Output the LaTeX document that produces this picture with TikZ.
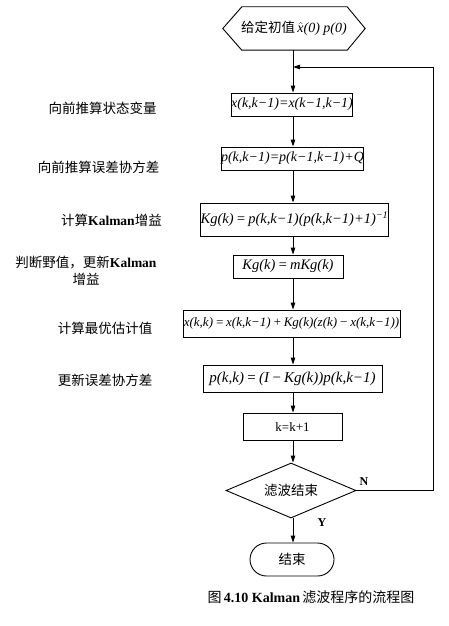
\documentclass[tikz,border=0pt]{standalone}
\usepackage{fontspec}
\setmainfont{Liberation Serif}
\newfontfamily\cjk{Noto Sans CJK SC}
\usetikzlibrary{shapes.geometric,shapes.misc,arrows.meta,calc}
\newcommand\zh[1]{{\cjk #1}}
\newcommand\fm[2]{{\fontsize{#1}{#1}\selectfont\itshape #2}}
\tikzset{
  ln/.style={line width=0.9pt},
  arr/.style={ln, -{Triangle[length=7pt,width=4.5pt]}},
  procbox/.style={draw, ln, rectangle, inner sep=0pt},
  lbl/.style={font=\cjk\fontsize{13.5}{17}\selectfont, inner sep=0pt, align=center},
  yn/.style={font=\bfseries\fontsize{12}{14}\selectfont, inner sep=0pt},
}
\begin{document}
\begin{tikzpicture}[x=1pt,y=-1pt]
\useasboundingbox (0,0) rectangle (448,626);
\coordinate (axis) at (293,0);
\coordinate (loopR) at (433,0);
% start hexagon
\node[inner sep=0pt, minimum width=142pt, minimum height=43pt,
  font=\fontsize{13.5}{16}\selectfont] (start) at (294,28.5)
  {\zh{给定初值}\,\fm{14}{$\hat{\mbox{\itshape x}}$(0) p(0)}};
\draw[ln] (start.west) -- ($(start.north west)+(19,0)$) -- ($(start.north east)+(-18,0)$)
  -- (start.east) -- ($(start.south east)+(-18,0)$) -- ($(start.south west)+(19,0)$) -- cycle;
% process boxes
\node[procbox, minimum width=120pt, minimum height=23pt] (b1) at (292,104.5) {\fm{14}{x(k,k−1)=x(k−1,k−1)}};
\node[procbox, minimum width=139pt, minimum height=23pt] (b2) at (292.5,158.5) {\fm{14}{p(k,k−1)=p(k−1,k−1)+Q}};
\node[procbox, minimum width=167pt, minimum height=33pt] (b3) at (294.5,219.5) {\fm{14.5}{Kg(k)\,=\,p(k,k−1)(p(k,k−1)+1)\textsuperscript{−1}}};
\node[procbox, minimum width=110pt, minimum height=23pt] (b4) at (288,266.5) {\fm{14.5}{Kg(k)\,=\,mKg(k)}};
\node[procbox, minimum width=217pt, minimum height=27pt] (b5) at (291.5,323.5) {\fm{13}{x(k,k)\,=\,x(k,k−1)\,+\,Kg(k)(z(k)\,−\,x(k,k−1))}};
\node[procbox, minimum width=179pt, minimum height=27pt] (b6) at (292.5,378.5) {\fm{15}{p(k,k)\,=\,(I\,−\,Kg(k))p(k,k−1)}};
\node[procbox, minimum width=99pt, minimum height=27pt, font=\fontsize{13}{15}\selectfont] (b7) at (292.5,426.5) {k=k+1};
% decision
\node[diamond, draw, ln, inner sep=0pt, aspect=2.36, minimum width=130pt, minimum height=55pt,
  font=\cjk\fontsize{13.5}{16}\selectfont] (dia) at (291,490.5) {滤波结束};
% end
\node[rounded rectangle, draw, ln, minimum width=84pt, minimum height=33pt, inner sep=0pt,
  font=\cjk\fontsize{13.5}{16}\selectfont] (end) at (292,559.5) {结束};
% join point of feedback
\coordinate (j) at (293,67);
% arrows
\draw[arr] (start.south -| axis) -- (b1.north -| axis);
\draw[arr] (b1.south -| axis) -- (b2.north -| axis);
\draw[arr] (b2.south -| axis) -- (b3.north -| axis);
\draw[arr] (b3.south -| axis) -- (b4.north -| axis);
\draw[arr] (b4.south -| axis) -- (b5.north -| axis);
\draw[arr] (b5.south -| axis) -- (b6.north -| axis);
\draw[arr] (b6.south -| axis) -- (b7.north -| axis);
\draw[arr] (b7.south -| axis) -- (dia.north -| axis);
\draw[arr] (dia.south -| axis) -- (end.north -| axis);
\draw[arr] (dia.east) -- (dia.east -| loopR) -- (loopR |- j) -- (j);
% Y / N labels
\node[yn] (N) at (364,482) {N};
\node[yn] (Y) at (322,523) {Y};
% left labels
\node[lbl] (l1) at (102.5,108) {向前推算状态变量};
\node[lbl] (l2) at (98.5,167) {向前推算误差协方差};
\node[lbl] (l3) at (111.5,220) {计算{\rmfamily\bfseries Kalman}增益};
\node[lbl] (l4) at (86,271) {判断野值，更新{\rmfamily\bfseries Kalman}\\增益};
\node[lbl] (l5) at (105,328) {计算最优估计值};
\node[lbl] (l6) at (105,380) {更新误差协方差};
% caption
\node[inner sep=0pt, font=\fontsize{14}{16}\selectfont] (cap) at (311,597)
  {\zh{图}\,\textbf{4.10 Kalman}\,\zh{滤波程序的流程图}};
\end{tikzpicture}
\end{document}
